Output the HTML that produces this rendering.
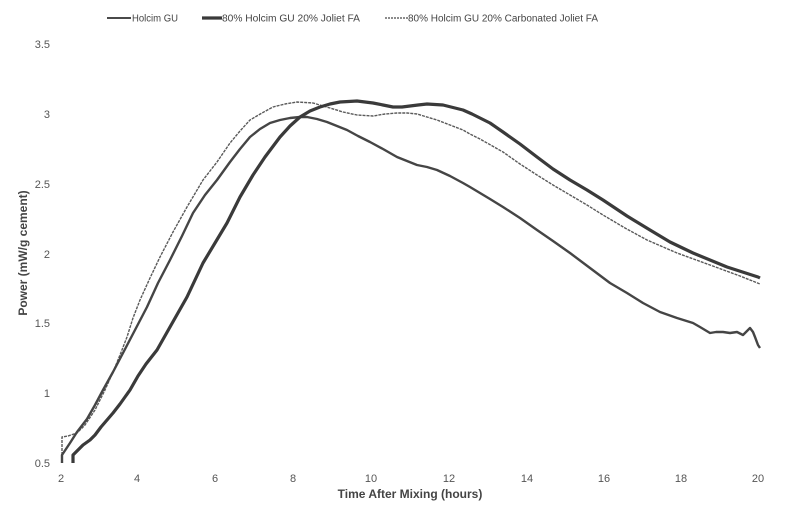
<!DOCTYPE html>
<html>
<head>
<meta charset="utf-8">
<style>
html,body{margin:0;padding:0;background:#fff;}
svg{display:block;}
text{font-family:"Liberation Sans",Arial,sans-serif;}
</style>
</head>
<body>
<svg width="800" height="525" viewBox="0 0 800 525" xmlns="http://www.w3.org/2000/svg">
<rect width="800" height="525" fill="#fff"/>

<!-- Legend -->
<line x1="107" y1="18" x2="131" y2="18" stroke="#4a4a4a" stroke-width="2"/>
<text x="132" y="21.5" font-size="10" fill="#444" textLength="46" lengthAdjust="spacingAndGlyphs">Holcim GU</text>
<line x1="202" y1="18" x2="222" y2="18" stroke="#3a3a3a" stroke-width="3.2"/>
<text x="222" y="21.5" font-size="10" fill="#444" textLength="138" lengthAdjust="spacingAndGlyphs">80% Holcim GU 20% Joliet FA</text>
<line x1="385" y1="18" x2="408" y2="18" stroke="#666" stroke-width="1.5" stroke-dasharray="2,1"/>
<text x="408" y="21.5" font-size="10" fill="#444" textLength="190" lengthAdjust="spacingAndGlyphs">80% Holcim GU 20% Carbonated Joliet FA</text>

<!-- Y tick labels -->
<g font-size="11" fill="#555" text-anchor="end">
<text x="50" y="48">3.5</text>
<text x="50" y="118">3</text>
<text x="50" y="188">2.5</text>
<text x="50" y="258">2</text>
<text x="50" y="327">1.5</text>
<text x="50" y="397">1</text>
<text x="50" y="467">0.5</text>
</g>

<!-- X tick labels -->
<g font-size="11" fill="#555" text-anchor="middle">
<text x="61" y="482">2</text>
<text x="137" y="482">4</text>
<text x="215" y="482">6</text>
<text x="293" y="482">8</text>
<text x="371" y="482">10</text>
<text x="449" y="482">12</text>
<text x="527" y="482">14</text>
<text x="604" y="482">16</text>
<text x="681" y="482">18</text>
<text x="758" y="482">20</text>
</g>

<!-- Axis titles -->
<text x="410" y="498" font-size="12" font-weight="bold" fill="#444" text-anchor="middle">Time After Mixing (hours)</text>
<text transform="translate(27,253) rotate(-90)" font-size="12" font-weight="bold" fill="#444" text-anchor="middle">Power (mW/g cement)</text>

<!-- Curve C: carbonated (thin) -->
<polyline fill="none" stroke="#5a5a5a" stroke-width="1.4" stroke-linejoin="round" stroke-dasharray="3,1"
points="62,463 62,437 68,436 77,433 85,425 95,410 105,390 113,372 120,355 127,337 133,318 140,300 150,278 160,257 173,232 187,207 203,180 217,162 230,143 240,131 250,120 262,113 273,107 285,104 297,102 313,103 330,108 343,112 357,115 373,116 385,114 397,113 407,113 417,114 427,117 437,120 450,125 463,130 470,134 480,139 503,152 520,164 537,175 553,185 570,195 587,205 603,215 625,228 647,240 677,253 710,265 740,276 760,284"/>

<!-- Curve M: Holcim GU (medium) -->
<polyline fill="none" stroke="#454545" stroke-width="2.4" stroke-linejoin="round"
points="62,463 62,455 70,443 77,432 87,419 95,405 103,390 113,372 123,353 135,330 147,307 158,283 170,260 182,236 193,213 205,195 217,180 230,162 240,149 250,137 260,129 270,123 280,120 290,118 300,117 307,117 317,119 327,122 337,126 347,130 358,136 370,142 383,149 397,157 407,161 417,165 427,167 437,170 450,176 463,183 470,187 480,193 490,199 503,207 520,218 537,230 553,241 570,253 590,268 610,283 627,293 643,303 660,312 677,318 693,323 700,327 710,333 716,332 723,332 730,333 737,332 743,335 747,331 750,328 753,332 755,337 758,345 760,348"/>

<!-- Curve L: Joliet FA (thick) -->
<polyline fill="none" stroke="#3a3a3a" stroke-width="3.2" stroke-linejoin="round"
points="73,463 73,455 78,450 83,445 90,440 95,435 101,427 107,420 113,413 120,404 125,397 130,390 138,376 146,364 157,350 170,327 187,297 203,263 215,243 227,223 240,197 253,175 265,157 280,137 290,126 300,117 310,111 320,107 330,104 340,102 357,101 373,103 383,105 393,107 402,107 410,106 418,105 427,104 443,105 455,108 463,110 472,114 480,118 490,123 503,132 520,144 537,157 553,169 570,180 587,190 603,200 627,216 650,230 670,242 693,253 727,267 758,277 760,278"/>
</svg>
</body>
</html>
